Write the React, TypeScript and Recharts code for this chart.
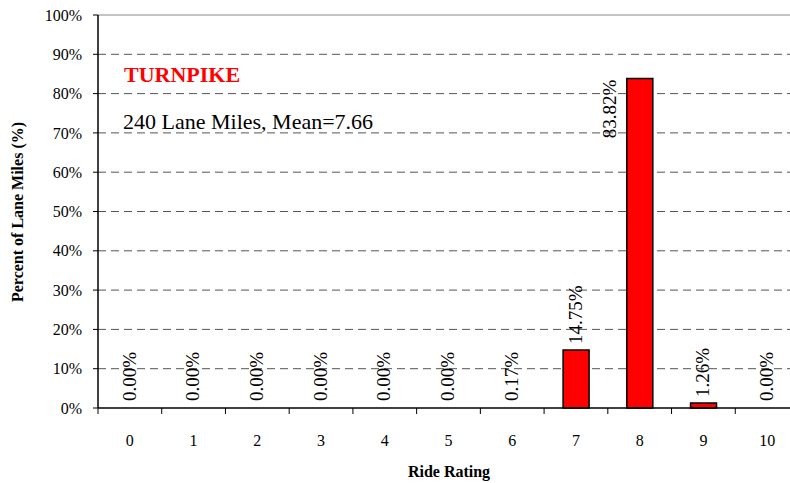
import { BarChart, Bar, XAxis, YAxis, CartesianGrid, LabelList, ReferenceLine, Rectangle } from "recharts";

const ratings = ["0", "1", "2", "3", "4", "5", "6", "7", "8", "9", "10"];
const percents = [0, 0, 0, 0, 0, 0, 0.17, 14.75, 83.82, 1.26, 0];
const yTicks = [0, 10, 20, 30, 40, 50, 60, 70, 80, 90, 100];

const title = "TURNPIKE";
const subtitle = "240 Lane Miles, Mean=7.66";

const data = ratings.map((r, i) => ({ rating: r, pct: percents[i] }));

const FONT = "'Liberation Serif', 'Times New Roman', serif";
const W = 820;
const H = 483;
const PLOT_LEFT = 98;
const PLOT_RIGHT = 799;
const BASE_Y = 408;
const BAND = (PLOT_RIGHT - PLOT_LEFT) / ratings.length;

// category label at the centre, tick mark at the left boundary
const RatingTick = (props: any) => {
    const { x, y, payload } = props;
    return (
        <g>
            <line x1={x - BAND / 2} x2={x - BAND / 2} y1={y} y2={y + 6} stroke="#000" strokeWidth={1} />
            <text x={x} y={y + 38} textAnchor="middle" fontFamily={FONT} fontSize={16} fill="#000">
                {payload.value}
            </text>
        </g>
    );
};

// Excel drops bars thinner than a pixel
const RedBar = (props: any) => {
    if (!props.height || props.height < 1) return null;
    return <Rectangle {...props} />;
};

const PctLabel = (props: any) => {
    const { x, y, width, height, value } = props;
    const txt = `${Number(value).toFixed(2)}%`;
    const top = Math.min(y, y + height);
    if (value > 80) {
        // tall bar: label sits left of the bar, ending at its top
        const lx = x - 17;
        const ly = top + 1;
        return (
            <text x={lx} y={ly} transform={`rotate(-90 ${lx} ${ly})`} textAnchor="end" dominantBaseline="central"
                fontFamily={FONT} fontSize={19} fill="#000">
                {txt}
            </text>
        );
    }
    const lx = x + width / 2 - 1;
    const ly = Math.min(top, BASE_Y) - 6;
    return (
        <text x={lx} y={ly} transform={`rotate(-90 ${lx} ${ly})`} textAnchor="start" dominantBaseline="central"
            fontFamily={FONT} fontSize={19} fill="#000">
            {txt}
        </text>
    );
};

export default function App() {
    return (
        <div style={{ position: "fixed", left: 0, top: 0, width: 790, height: H, overflow: "hidden", background: "#fff", fontFamily: FONT }}>
            <BarChart width={W} height={H} data={data} margin={{ top: 15, right: W - PLOT_RIGHT, bottom: 0, left: 0 }}>
                <CartesianGrid
                    vertical={false}
                    horizontalValues={yTicks.filter((t) => t > 0 && t < 100)}
                    stroke="#555"
                    strokeDasharray="8 5"
                />
                <ReferenceLine y={100} stroke="#888" strokeWidth={1} />
                <XAxis
                    dataKey="rating"
                    height={H - BASE_Y}
                    axisLine={{ stroke: "#000", strokeWidth: 1.5 }}
                    tickLine={false}
                    tickSize={0}
                    tickMargin={0}
                    tick={<RatingTick />}
                    interval={0}
                />
                <XAxis xAxisId="lab" dataKey="rating" hide />
                <YAxis
                    width={PLOT_LEFT}
                    domain={[0, 100]}
                    ticks={yTicks}
                    tickFormatter={(v: number) => `${v}%`}
                    axisLine={{ stroke: "#000", strokeWidth: 1.5 }}
                    tickLine={{ stroke: "#000" }}
                    tickSize={5}
                    tickMargin={11}
                    tick={{ fontFamily: FONT, fontSize: 16, fill: "#000" }}
                    interval={0}
                />
                <Bar dataKey="pct" fill="#FF0000" stroke="#000" strokeWidth={1.5} barSize={26} shape={<RedBar />}
                    isAnimationActive={false} />
                {/* invisible twin bar carrying the value labels, so zero bars get one too */}
                <Bar xAxisId="lab" dataKey="pct" fill="none" stroke="none" barSize={26} minPointSize={1}
                    isAnimationActive={false}>
                    <LabelList dataKey="pct" content={<PctLabel />} />
                </Bar>
                <text x={124} y={82} fontFamily={FONT} fontSize={22} fontWeight="bold" fill="#FF0000">
                    {title}
                </text>
                <text x={123} y={129} fontFamily={FONT} fontSize={22} fill="#000">
                    {subtitle}
                </text>
                <text x={449} y={477} textAnchor="middle" fontFamily={FONT} fontSize={16} fontWeight="bold" fill="#000">
                    Ride Rating
                </text>
                <text x={23} y={212} transform="rotate(-90 23 212)" textAnchor="middle" fontFamily={FONT} fontSize={16}
                    fontWeight="bold" fill="#000">
                    Percent of Lane Miles (%)
                </text>
            </BarChart>
        </div>
    );
}
